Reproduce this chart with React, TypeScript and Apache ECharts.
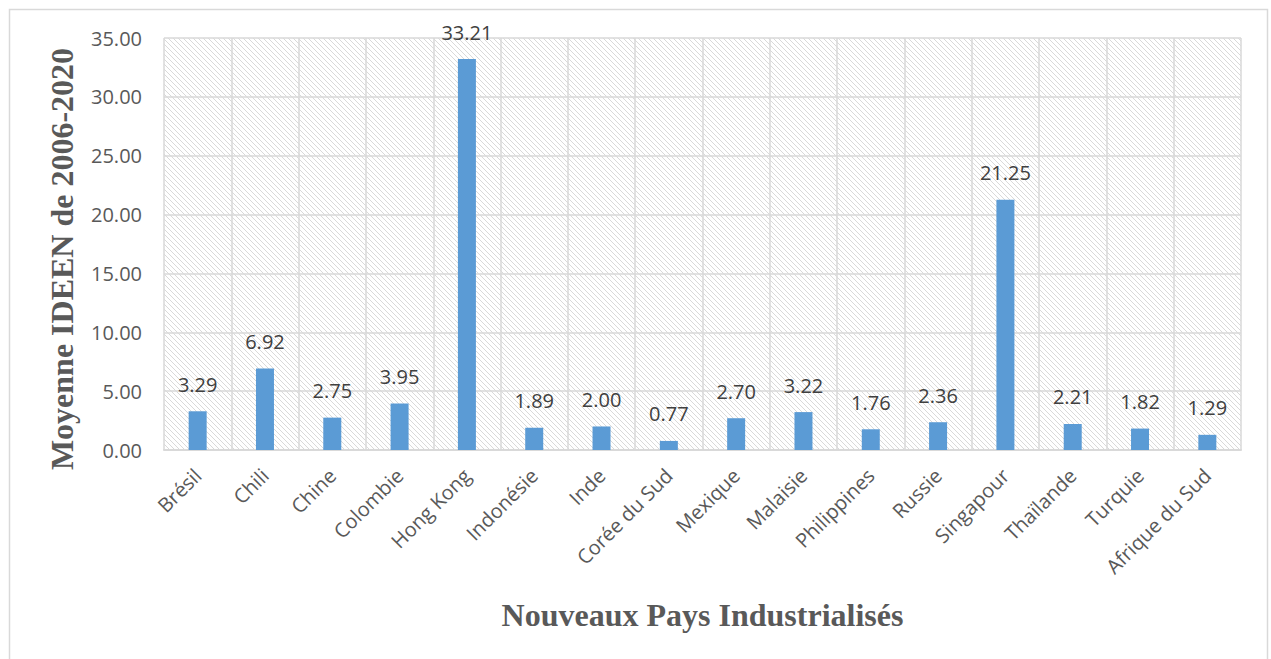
import React, { useEffect, useRef } from "react";
import * as echarts from "echarts";

const categories = [
  "Brésil", "Chili", "Chine", "Colombie", "Hong Kong", "Indonésie", "Inde", "Corée du Sud",
  "Mexique", "Malaisie", "Philippines", "Russie", "Singapour", "Thaïlande", "Turquie", "Afrique du Sud",
];
const values = [3.29, 6.92, 2.75, 3.95, 33.21, 1.89, 2.0, 0.77, 2.7, 3.22, 1.76, 2.36, 21.25, 2.21, 1.82, 1.29];
const yTitle = "Moyenne IDEEN de 2006-2020";
const xTitle = "Nouveaux Pays Industrialisés";

function hatch(): string {
  const n = 5;
  const c = document.createElement("canvas");
  c.width = n;
  c.height = n;
  const g = c.getContext("2d")!;
  g.fillStyle = "#ffffff";
  g.fillRect(0, 0, n, n);
  g.strokeStyle = "#d9d9d9";
  g.lineWidth = 1;
  g.beginPath();
  for (let k = -n; k <= n; k += n) {
    g.moveTo(k, 0);
    g.lineTo(k + n, n);
  }
  g.stroke();
  return c.toDataURL();
}

export default function App() {
  const ref = useRef<HTMLDivElement>(null);
  useEffect(() => {
    const chart = echarts.init(ref.current!, null, { renderer: "svg" });
    const pat = { image: hatch(), repeat: "repeat" } as any;
    chart.setOption({
      animation: false,
      backgroundColor: "#ffffff",
      graphic: [
        {
          type: "rect",
          shape: { x: 9.5, y: 9.5, width: 1258, height: 660 },
          style: { fill: "none", stroke: "#d9d9d9", lineWidth: 1.5 },
          silent: true,
        },
      ],
      grid: {
        left: 164,
        right: 30,
        top: 38,
        bottom: 209,
        show: true,
        backgroundColor: pat,
        borderWidth: 0,
      },
      xAxis: {
        type: "category",
        data: categories,
        name: xTitle,
        nameLocation: "middle",
        nameGap: 149,
        nameTextStyle: {
          fontFamily: "Liberation Serif",
          fontWeight: "bold",
          fontSize: 32,
          color: "#595959",
        },
        axisLine: { show: true, lineStyle: { color: "#d9d9d9", width: 2 } },
        axisTick: { show: false },
        splitLine: { show: true, lineStyle: { color: "#d9d9d9", width: 1.5 } },
        axisLabel: {
          rotate: 45,
          interval: 0,
          margin: 22,
          fontFamily: "Open Sans",
          fontSize: 20,
          color: "#595959",
        },
      },
      yAxis: {
        type: "value",
        min: 0,
        max: 35,
        interval: 5,
        name: yTitle,
        nameLocation: "middle",
        nameGap: 86,
        nameTextStyle: {
          fontFamily: "Liberation Serif",
          fontWeight: "bold",
          fontSize: 32,
          color: "#595959",
          padding: [0, 30, 0, 0],
        },
        axisLine: { show: false },
        axisTick: { show: false },
        splitLine: { show: true, lineStyle: { color: "#d9d9d9", width: 1.5 } },
        axisLabel: {
          formatter: (v: number) => v.toFixed(2),
          margin: 22,
          fontFamily: "Open Sans",
          fontSize: 20,
          color: "#595959",
        },
      },
      series: [
        {
          type: "bar",
          data: values,
          barWidth: 18,
          itemStyle: { color: "#5b9bd5" },
          label: {
            show: true,
            position: "top",
            distance: 17,
            formatter: (p: any) => Number(p.value).toFixed(2),
            fontFamily: "Open Sans",
            fontSize: 20,
            color: "#404040",
          },
        },
      ],
    });
    return () => chart.dispose();
  }, []);
  return (
    <div
      ref={ref}
      style={{ position: "absolute", left: 0, top: 0, width: 1271, height: 659 }}
    />
  );
}
